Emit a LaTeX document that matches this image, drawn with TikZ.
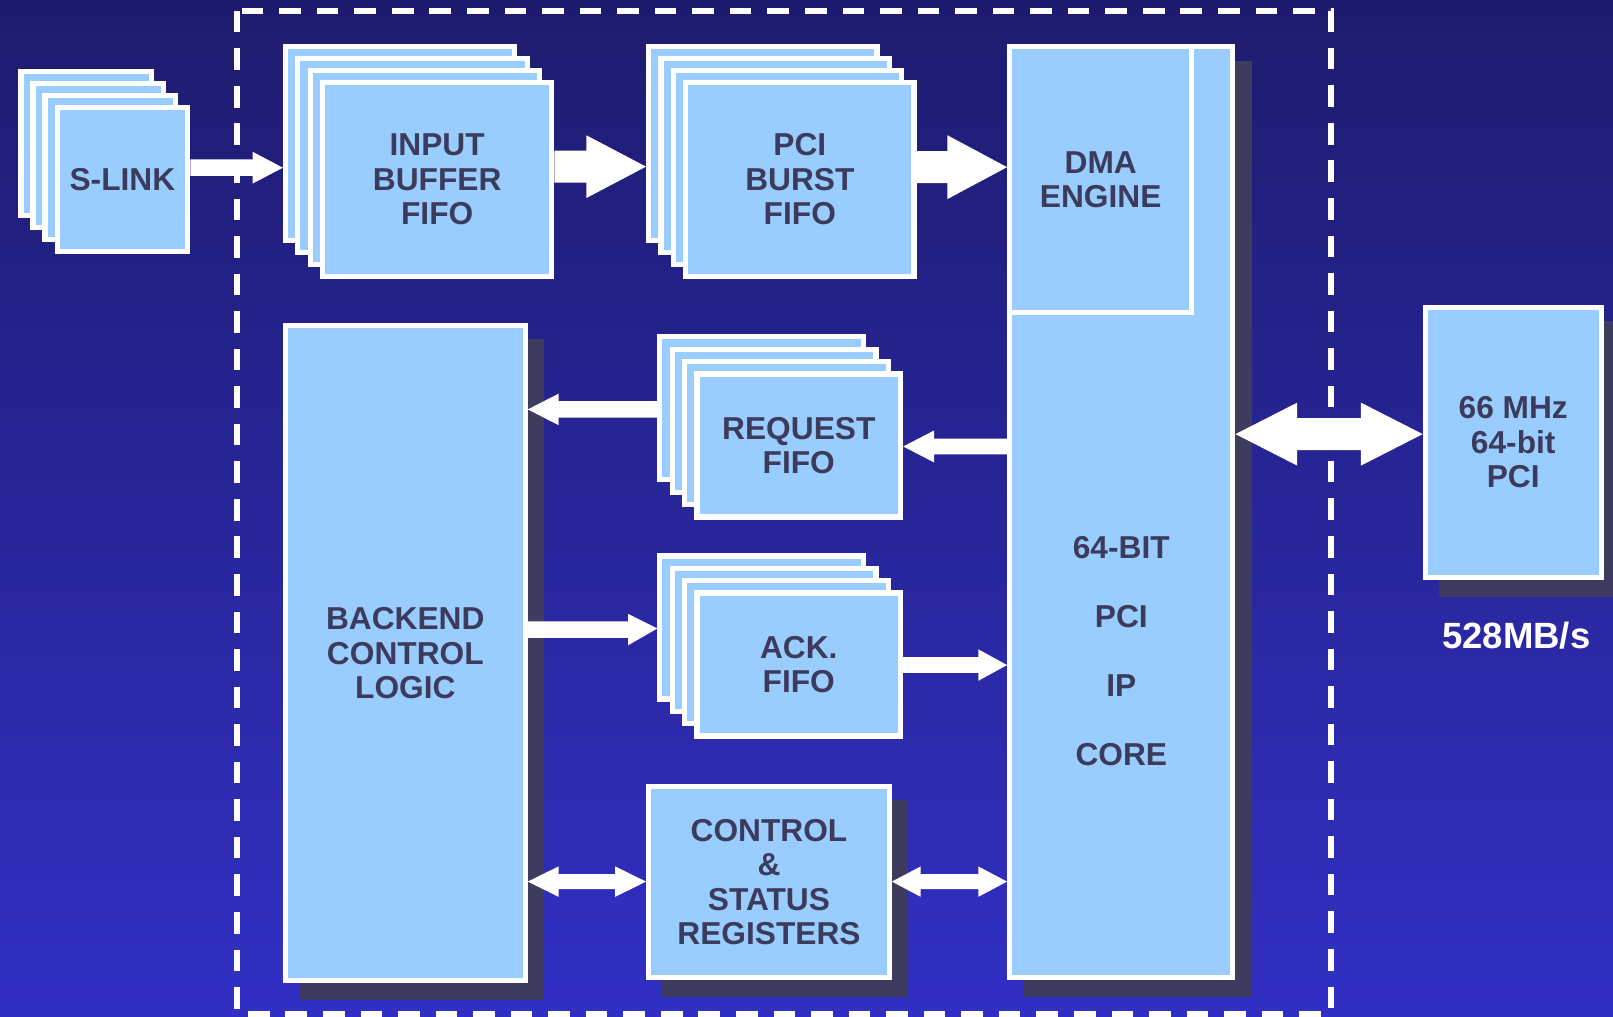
\documentclass[tikz,border=0pt]{standalone}
\usepackage{fontspec}
\setmainfont{Liberation Sans}
\usetikzlibrary{calc}
\definecolor{bgtop}{RGB}{30,27,110}
\definecolor{bgbot}{RGB}{50,48,196}
\definecolor{boxfill}{RGB}{153,204,255}
\definecolor{txtc}{RGB}{60,59,92}
\definecolor{shadc}{RGB}{61,59,94}
\pgfdeclarelayer{bglayer}
\pgfdeclarelayer{shadlayer}
\pgfsetlayers{bglayer,shadlayer,main}
\tikzset{
  blk/.style={draw=white, fill=boxfill, line width=5pt, rectangle, inner sep=0pt,
    align=center, text=txtc, font=\bfseries\fontsize{30.8}{33.5}\selectfont},
  arrowfill/.style={fill=white},
  shadowfill/.style={fill=shadc},
  frame/.style={draw=white, line width=5.5pt, dash pattern=on 21pt off 15.5pt}
}
% name, x1, y1, x2, y2 (outer edges), text
\newcommand\blockbox[6]{%
  \node[blk, minimum width={(#4-#2-5)*1pt}, minimum height={(#5-#3-5)*1pt}]
    (#1) at ({(#2+#4)/2},{(#3+#5)/2}) {#6};}
% name, front x1,y1,x2,y2, dx, dy, text
\newcommand\stackbox[8]{%
  \blockbox{#1-a}{(#2-3*#6)}{(#3-3*#7)}{(#4-3*#6)}{(#5-3*#7)}{}%
  \blockbox{#1-b}{(#2-2*#6)}{(#3-2*#7)}{(#4-2*#6)}{(#5-2*#7)}{}%
  \blockbox{#1-c}{(#2-#6)}{(#3-#7)}{(#4-#6)}{(#5-#7)}{}%
  \blockbox{#1}{#2}{#3}{#4}{#5}{#8}}
% single block arrow: start, tip, shaft half, head half, head length
\newcommand\sarrow[5]{%
  \fill[arrowfill] let \p1=(#1), \p2=(#2), \p3=($(#2)!#5!(#1)$) in
    (\x1,\y1+#3) -- (\x3,\y1+#3) -- (\x3,\y1+#4) -- (\x2,\y2) --
    (\x3,\y1-#4) -- (\x3,\y1-#3) -- (\x1,\y1-#3) -- cycle;}
% double block arrow
\newcommand\darrow[5]{%
  \fill[arrowfill] let \p1=(#1), \p2=(#2), \p3=($(#1)!#5!(#2)$), \p4=($(#2)!#5!(#1)$) in
    (\x1,\y1) -- (\x3,\y1+#4) -- (\x3,\y1+#3) -- (\x4,\y1+#3) -- (\x4,\y1+#4) --
    (\x2,\y1) -- (\x4,\y1-#4) -- (\x4,\y1-#3) -- (\x3,\y1-#3) -- (\x3,\y1-#4) -- cycle;}
\newcommand\shadowof[1]{%
  \fill[shadowfill] ([shift={(16pt,-16pt)}]#1.south west) rectangle ([shift={(16pt,-16pt)}]#1.north east);}

\begin{document}
\begin{tikzpicture}[x=1pt,y=-1pt]
\useasboundingbox (0,0) rectangle (1568,988);
\begin{pgfonlayer}{bglayer}
  \shade[top color=bgtop, bottom color=bgbot] (0,0) rectangle (1568,988);
  \draw[frame] (230.5,10.5) rectangle (1294,985.5);
\end{pgfonlayer}

% stacks
\stackbox{slink}{53}{102}{185}{247}{11.7}{11.8}{S-LINK}
\stackbox{input}{311}{78}{539}{271}{12}{11.7}{INPUT\\BUFFER\\FIFO}
\stackbox{pci}{664}{78}{891}{271}{12}{11.7}{PCI\\BURST\\FIFO}
\stackbox{request}{675}{361}{878}{505}{12}{12}{REQUEST\\FIFO}
\stackbox{ack}{675}{574}{878}{718}{12}{12}{ACK.\\FIFO}

% single boxes
\blockbox{backend}{275}{314}{513}{956}{BACKEND\\CONTROL\\LOGIC}
\blockbox{control}{628}{762}{867}{953}{CONTROL\\\&\\STATUS\\REGISTERS}
\blockbox{core}{979}{43}{1201}{953}{}
\blockbox{dma}{979}{43}{1161}{306}{DMA\\ENGINE}
\blockbox{pcibus}{1383}{296}{1559}{564}{66 MHz\\64-bit\\PCI}

\node[text=txtc, align=center, font=\bfseries\fontsize{30.8}{67}\selectfont]
  (corelabel) at (1090,633) {64-BIT\\PCI\\IP\\CORE};
\node[text=white, anchor=base, font=\bfseries\fontsize{35.5}{40}\selectfont]
  (rate) at (1474,630.5) {528MB/s};

\begin{pgfonlayer}{shadlayer}
  \shadowof{backend}
  \shadowof{control}
  \shadowof{core}
  \shadowof{pcibus}
\end{pgfonlayer}

% arrows
\coordinate (a1s) at (slink.east |- 0,163);
\coordinate (a1t) at (input-a.west |- 0,163);
\sarrow{a1s}{a1t}{8pt}{15.5pt}{29.5pt}

\coordinate (a2s) at (input.east |- 0,162);
\coordinate (a2t) at (pci-a.west |- 0,162);
\sarrow{a2s}{a2t}{15.5pt}{30.5pt}{58pt}

\coordinate (a3s) at (pci.east |- 0,162.5);
\coordinate (a3t) at (dma.west |- 0,162.5);
\sarrow{a3s}{a3t}{15.5pt}{31pt}{58pt}

\coordinate (a4s) at (core.west |- 0,434);
\coordinate (a4t) at (request.east |- 0,434);
\sarrow{a4s}{a4t}{7.7pt}{15.5pt}{30pt}

\coordinate (a5s) at (request-a.west |- 0,398);
\coordinate (a5t) at (backend.east |- 0,398);
\sarrow{a5s}{a5t}{8pt}{15.3pt}{30pt}

\coordinate (a6s) at (backend.east |- 0,612);
\coordinate (a6t) at (ack-a.west |- 0,611);
\sarrow{a6s}{a6t}{8pt}{15.3pt}{28.5pt}

\coordinate (a7s) at (ack.east |- 0,646.5);
\coordinate (a7t) at (core.west |- 0,646.5);
\sarrow{a7s}{a7t}{7.7pt}{15.3pt}{28pt}

\coordinate (a8s) at (backend.east |- 0,857);
\coordinate (a8t) at (control.west |- 0,857);
\darrow{a8s}{a8t}{7.3pt}{14.8pt}{30pt}

\coordinate (a9s) at (control.east |- 0,857);
\coordinate (a9t) at (core.west |- 0,857);
\darrow{a9s}{a9t}{7.3pt}{14.8pt}{28pt}

\coordinate (a10s) at (core.east |- 0,422);
\coordinate (a10t) at (pcibus.west |- 0,422);
\darrow{a10s}{a10t}{15.5pt}{30.6pt}{60pt}
\end{tikzpicture}
\end{document}
